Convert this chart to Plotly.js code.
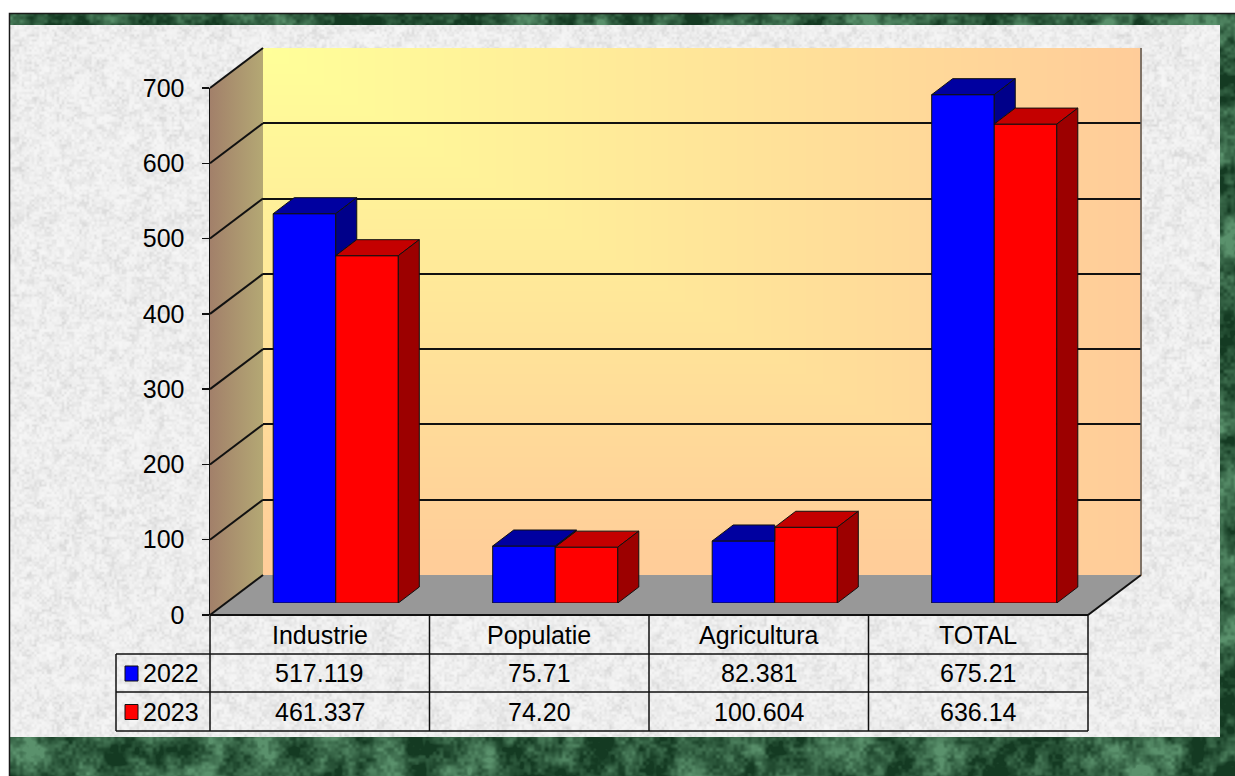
<!DOCTYPE html>
<html>
<head>
<meta charset="utf-8">
<script src="https://cdn.plot.ly/plotly-3.0.1.min.js"></script>
<style>
html,body{margin:0;padding:0;background:#ffffff;}
#chart{width:1235px;height:776px;}
</style>
</head>
<body>
<div id="chart"></div>
<script>
// ---------------- data ----------------
const categories = ['Industrie', 'Populatie', 'Agricultura', 'TOTAL'];
const seriesNames = ['2022', '2023'];
const values2022 = [517.119, 75.71, 82.381, 675.21];
const values2023 = [461.337, 74.20, 100.604, 636.14];
const labels2022 = ['517.119', '75.71', '82.381', '675.21'];
const labels2023 = ['461.337', '74.20', '100.604', '636.14'];
const yTickValues = [0, 100, 200, 300, 400, 500, 600, 700];

// ---------------- styles / geometry ----------------
const W = 1235, H = 776;
const FONT = 'Liberation Sans, Arial, sans-serif';
const FL = 210, FR = 1088;     // front plane, left / right (px)
const FB = 615;                // front plane, value 0 (px)
const YMAX = 700;
const PXU = 527 / 700;         // px per value unit
const DXP = 53, DYP = 40;      // wall depth offset (px)
const BXP = 16, BYP = 12;      // bar front-plane offset (px)
const DDX = 21, DDY = 16;      // bar depth (px)
const BAR_W = 0.285;           // bar width, category units
const CAT_PX = (FR - FL) / categories.length;
const DXU = DDX / CAT_PX;      // bar depth in x units
const DYU = DDY / PXU;         // bar depth in y units
const colBlue = '#0000ff', colBlueTop = '#0000a0', colBlueSide = '#00008a';
const colRed = '#ff0000', colRedTop = '#c40000', colRedSide = '#9c0000';
const LINE = '#111111';
const ROW_Y = [615, 654, 692, 731];   // table row boundaries (px)
const LEG_X = 116;

const px = x => x / W;
const py = y => 1 - y / H;

// ---------------- background canvas (frame, panel, walls, floor) ----------------
function hash(ix, iy, s) {
  const v = Math.sin(ix * 127.1 + iy * 311.7 + s * 74.7) * 43758.5453;
  return v - Math.floor(v);
}
function vnoise(x, y, s) {
  const ix = Math.floor(x), iy = Math.floor(y);
  const fx = x - ix, fy = y - iy;
  const ux = fx * fx * (3 - 2 * fx), uy = fy * fy * (3 - 2 * fy);
  const a = hash(ix, iy, s), b = hash(ix + 1, iy, s), c = hash(ix, iy + 1, s), d = hash(ix + 1, iy + 1, s);
  return a + (b - a) * ux + (c - a) * uy + (a - b - c + d) * ux * uy;
}
function makeBackground() {
  const cv = document.createElement('canvas');
  cv.width = W; cv.height = H;
  const ctx = cv.getContext('2d');
  const img = ctx.createImageData(W, H);
  const d = img.data;
  const PL = 10, PR = 1220, PT = 25, PBm = 737;
  const BWL = FL + DXP, BWR = FR + DXP, BWT = FB - DYP - YMAX * PXU, BWB = FB - DYP;
  for (let y = 0; y < H; y++) {
    for (let x = 0; x < W; x++) {
      let r = 255, g = 255, b = 255;
      if (x >= BWL && x <= BWR && y >= BWT && y <= BWB) {
        const u = (x - BWL) / (BWR - BWL), v = (y - BWT) / (BWB - BWT);
        const t = Math.max(u, v);
        r = 255; g = 255 - 51 * t; b = 153;
      } else if (x >= PL && x < PR && y >= PT && y < PBm) {
        const n = 0.6 * vnoise(x / 2.5, y / 2.5, 4) + 0.4 * vnoise(x / 7, y / 7, 5);
        const c = 246 - 32 * Math.pow(n, 1.8);
        r = g = b = c;
      } else if (x >= 9 && y >= 13) {
        const n = 0.5 * vnoise(x / 30, y / 30, 1) + 0.3 * vnoise(x / 10, y / 10, 2) + 0.2 * vnoise(x / 3.5, y / 3.5, 3);
        let t = (n - 0.3) / 0.45; t = Math.max(0, Math.min(1, t));
        r = 20 + (90 - 20) * t; g = 58 + (145 - 58) * t; b = 34 + (108 - 34) * t;
      }
      const k = (y * W + x) * 4;
      d[k] = r; d[k + 1] = g; d[k + 2] = b; d[k + 3] = 255;
    }
  }
  ctx.putImageData(img, 0, 0);
  // frame line
  ctx.strokeStyle = '#1a1a1a'; ctx.lineWidth = 1.5;
  ctx.beginPath(); ctx.moveTo(9.5, H); ctx.lineTo(9.5, 13.5); ctx.lineTo(W, 13.5); ctx.stroke();
  // side wall
  const sg = ctx.createLinearGradient(FL, 0, FL + DXP, 0);
  sg.addColorStop(0, '#a2806a'); sg.addColorStop(1, '#b4a874');
  ctx.fillStyle = sg;
  ctx.beginPath();
  ctx.moveTo(FL, FB); ctx.lineTo(FL, FB - YMAX * PXU);
  ctx.lineTo(FL + DXP, FB - DYP - YMAX * PXU); ctx.lineTo(FL + DXP, FB - DYP);
  ctx.closePath(); ctx.fill();
  // floor
  ctx.fillStyle = '#989898';
  ctx.beginPath();
  ctx.moveTo(FL, FB); ctx.lineTo(FL + DXP, FB - DYP); ctx.lineTo(FR + DXP, FB - DYP); ctx.lineTo(FR, FB);
  ctx.closePath(); ctx.fill();
  return cv.toDataURL('image/png');
}

// ---------------- 3D faces of bars (from data) ----------------
const idx = categories.map((c, i) => i);
function polys(builder) {
  const xs = [], ys = [];
  idx.forEach(i => {
    const p = builder(i);
    if (!p) return;
    p.forEach(pt => { xs.push(pt[0]); ys.push(pt[1]); });
    xs.push(p[0][0]); ys.push(p[0][1]);
    xs.push(null); ys.push(null);
  });
  return { xs, ys };
}
const blueTop = polys(i => {
  const xl = i - BAR_W, xm = i, vb = values2022[i], vr = values2023[i];
  if (vr >= vb) return [[xl, vb], [xm, vb], [xm, vb + DYU], [xl + DXU, vb + DYU]];
  return [[xl, vb], [xm, vb], [xm + DXU, vb + DYU], [xl + DXU, vb + DYU]];
});
const blueSide = polys(i => {
  const xm = i, vb = values2022[i], vr = values2023[i];
  if (vb <= vr) return null;
  return [[xm, vr], [xm, vb], [xm + DXU, vb + DYU], [xm + DXU, vr + DYU]];
});
const redTop = polys(i => {
  const xm = i, xr = i + BAR_W, vr = values2023[i];
  return [[xm, vr], [xr, vr], [xr + DXU, vr + DYU], [xm + DXU, vr + DYU]];
});
const redSide = polys(i => {
  const xr = i + BAR_W, vr = values2023[i];
  return [[xr, 0], [xr, vr], [xr + DXU, vr + DYU], [xr + DXU, DYU]];
});

function faceTrace(p, color) {
  return {
    type: 'scatter', mode: 'lines', x: p.xs, y: p.ys, xaxis: 'x3', yaxis: 'y3',
    fill: 'toself', fillcolor: color, line: { color: LINE, width: 1 },
    hoverinfo: 'skip', showlegend: false
  };
}

const traces = [
  { type: 'scatter', x: [], y: [], xaxis: 'x', yaxis: 'y', showlegend: false, hoverinfo: 'skip' },
  { type: 'scatter', x: [], y: [], xaxis: 'x2', yaxis: 'y2', showlegend: false, hoverinfo: 'skip' },
  {
    type: 'bar', name: seriesNames[0], x: idx, y: values2022, xaxis: 'x3', yaxis: 'y3',
    width: BAR_W, offset: -BAR_W, marker: { color: colBlue, line: { color: LINE, width: 1 } },
    showlegend: false
  },
  {
    type: 'bar', name: seriesNames[1], x: idx, y: values2023, xaxis: 'x3', yaxis: 'y3',
    width: BAR_W, offset: 0, marker: { color: colRed, line: { color: LINE, width: 1 } },
    showlegend: false
  },
  faceTrace(blueTop, colBlueTop),
  faceTrace(blueSide, colBlueSide),
  faceTrace(redTop, colRedTop),
  faceTrace(redSide, colRedSide)
];

// ---------------- shapes: wall edges, side-wall grid, table ----------------
const shapes = [];
function line(x0, y0, x1, y1, color, width) {
  shapes.push({ type: 'line', xref: 'paper', yref: 'paper', x0: px(x0), y0: py(y0), x1: px(x1), y1: py(y1),
    line: { color: color || LINE, width: width || 1.5 }, layer: 'above' });
}
// side wall diagonal gridlines
yTickValues.forEach(v => {
  line(FL, FB - v * PXU, FL + DXP, FB - DYP - v * PXU, LINE, 2);
});
// floor edges & back wall right edge
line(FL, FB, FR, FB, LINE, 2);
line(FR, FB, FR + DXP, FB - DYP, LINE, 2);
line(FR + DXP, FB - DYP, FR + DXP, FB - DYP - YMAX * PXU, '#555555', 1.5);
// table lines
const colX = [0, 1, 2, 3, 4].map(k => FL + k * CAT_PX);
colX.forEach(x => line(x, ROW_Y[0], x, ROW_Y[3]));
line(LEG_X, ROW_Y[1], LEG_X, ROW_Y[3]);
[1, 2, 3].forEach(r => line(LEG_X, ROW_Y[r], FR, ROW_Y[r]));
// legend keys
[colBlue, colRed].forEach((c, k) => {
  const cy = (ROW_Y[k + 1] + ROW_Y[k + 2]) / 2;
  shapes.push({ type: 'rect', xref: 'paper', yref: 'paper', x0: px(125), x1: px(138), y0: py(cy - 7), y1: py(cy + 8),
    fillcolor: c, line: { color: LINE, width: 1 }, layer: 'above' });
});

// ---------------- annotations: table text ----------------
const annotations = [];
const tf = { family: FONT, size: 25, color: '#000000' };
const rowC = [0, 1, 2].map(r => (ROW_Y[r] + ROW_Y[r + 1]) / 2);
categories.forEach((c, i) => {
  annotations.push({ xref: 'x', yref: 'paper', x: i, y: py(rowC[0]), text: c, showarrow: false, font: tf, yanchor: 'middle' });
  annotations.push({ xref: 'x', yref: 'paper', x: i, y: py(rowC[1]), text: labels2022[i], showarrow: false, font: tf, yanchor: 'middle' });
  annotations.push({ xref: 'x', yref: 'paper', x: i, y: py(rowC[2]), text: labels2023[i], showarrow: false, font: tf, yanchor: 'middle' });
});
seriesNames.forEach((s, k) => {
  annotations.push({ xref: 'paper', yref: 'paper', x: px(141), y: py(rowC[k + 1]), text: s, showarrow: false,
    font: tf, xanchor: 'left', yanchor: 'middle' });
});

// ---------------- layout ----------------
const layout = {
  width: W, height: H,
  margin: { l: 0, r: 0, t: 0, b: 0, pad: 0 },
  paper_bgcolor: '#ffffff',
  plot_bgcolor: 'rgba(0,0,0,0)',
  showlegend: false,
  barmode: 'overlay',
  font: { family: FONT, size: 25, color: '#000000' },
  xaxis: { domain: [px(FL), px(FR)], range: [-0.5, categories.length - 0.5], visible: false, anchor: 'y', fixedrange: true },
  yaxis: {
    domain: [py(FB), py(FB - YMAX * PXU)], range: [0, YMAX], anchor: 'x',
    tickvals: yTickValues, ticktext: yTickValues.map(String),
    showline: true, linecolor: LINE, linewidth: 1.5,
    ticks: 'outside', ticklen: 7, tickwidth: 1.5, tickcolor: LINE,
    showgrid: false, zeroline: false, ticklabelstandoff: 12,
    tickfont: { family: FONT, size: 25, color: '#000000' }, fixedrange: true
  },
  xaxis2: { domain: [px(FL + DXP), px(FR + DXP)], range: [-0.5, categories.length - 0.5], visible: false, anchor: 'y2', fixedrange: true },
  yaxis2: {
    domain: [py(FB - DYP), py(FB - DYP - YMAX * PXU)], range: [0, YMAX], anchor: 'x2',
    tickvals: yTickValues.slice(1), showticklabels: false, ticks: '',
    showgrid: true, gridcolor: LINE, gridwidth: 2, zeroline: false, showline: false, fixedrange: true
  },
  xaxis3: { domain: [px(FL + BXP), px(FR + BXP)], range: [-0.5, categories.length - 0.5], visible: false, anchor: 'y3', fixedrange: true },
  yaxis3: { domain: [py(FB - BYP), py(FB - BYP - YMAX * PXU)], range: [0, YMAX], visible: false, anchor: 'x3', fixedrange: true },
  shapes: shapes,
  annotations: annotations,
  images: [{
    source: makeBackground(), xref: 'paper', yref: 'paper', x: 0, y: 1, sizex: 1, sizey: 1,
    xanchor: 'left', yanchor: 'top', sizing: 'stretch', layer: 'below'
  }]
};

Plotly.newPlot('chart', traces, layout, { displayModeBar: false, staticPlot: true });
</script>
</body>
</html>
